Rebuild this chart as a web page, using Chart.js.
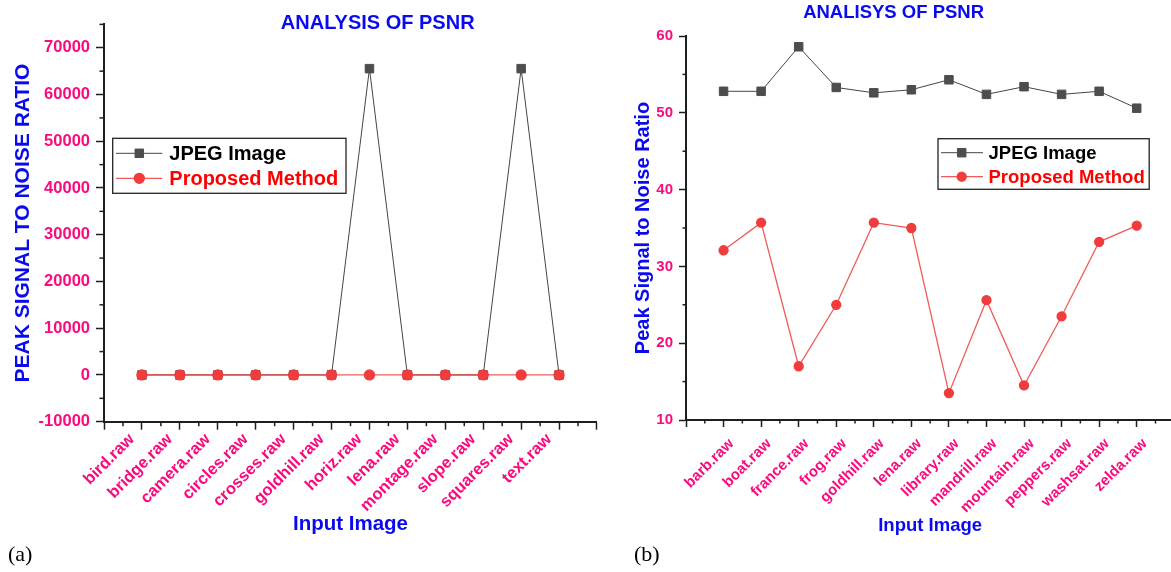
<!DOCTYPE html>
<html lang="en">
<head>
<meta charset="UTF-8" />
<title>Analysis of PSNR</title>
<script src="https://cdn.jsdelivr.net/npm/chart.js"></script>
<style>
  html, body {
    margin: 0;
    padding: 0;
    background: #fff;
    width: 1171px;
    height: 572px;
    overflow: hidden;
  }
  canvas { position: absolute; top: 0; }
  #chartA { left: 0; }
  #chartB { left: 610px; }
  .tag {
    position: absolute;
    top: 543px;
    font-family: "Liberation Serif", serif;
    font-size: 22px;
    line-height: 22px;
    color: #000;
  }
</style>
</head>
<body>

<canvas id="chartA" width="611" height="545"></canvas>
<canvas id="chartB" width="585" height="545"></canvas>
<div class="tag" style="left:8px">(a)</div>
<div class="tag" style="left:634px">(b)</div>

<script>
// ---- data (a) ----
const catsA = ['bird.raw', 'bridge.raw', 'camera.raw', 'circles.raw', 'crosses.raw', 'goldhill.raw',
               'horiz.raw', 'lena.raw', 'montage.raw', 'slope.raw', 'squares.raw', 'text.raw'];
const jpegA = [0, 0, 0, 0, 0, 0, 65535, 0, 0, 0, 65535, 0];
const proposedA = [0, 0, 0, 0, 0, 0, 0, 0, 0, 0, 0, 0];
const yTicksA = [-10000, 0, 10000, 20000, 30000, 40000, 50000, 60000, 70000];

// ---- data (b) ----
const catsB = ['barb.raw', 'boat.raw', 'france.raw', 'frog.raw', 'goldhill.raw', 'lena.raw',
               'library.raw', 'mandrill.raw', 'mountain.raw', 'peppers.raw', 'washsat.raw', 'zelda.raw'];
const jpegB = [52.8, 52.8, 58.6, 53.3, 52.6, 53.0, 54.3, 52.4, 53.4, 52.4, 52.8, 50.6];
const proposedB = [32.1, 35.7, 17.0, 25.0, 35.7, 35.0, 13.5, 25.6, 14.5, 23.5, 33.2, 35.3];
const yTicksB = [10, 20, 30, 40, 50, 60];

const seriesNames = ['JPEG Image', 'Proposed Method'];
const legendTextColors = ['#000000', '#ff0000'];

const PINK = '#fa0a7d';
const BLUE = '#0a0af0';
const AXIS = '#1e1e1e';
const FONT = '"Liberation Sans", Arial, sans-serif';

// short ticks half way between the major ones
const minorTicks = {
  id: 'minorTicks',
  afterDraw(chart, args, opts) {
    const ctx = chart.ctx;
    ctx.save();
    ctx.strokeStyle = AXIS;
    ctx.lineWidth = 1.5;
    const xs = chart.scales.x, ys = chart.scales.y;
    for (let v = xs.min + 0.5; v < xs.max; v += 1) {
      const px = xs.getPixelForValue(v);
      ctx.beginPath();
      ctx.moveTo(px, xs.top);
      ctx.lineTo(px, xs.top + opts.len);
      ctx.stroke();
    }
    for (let v = ys.min + opts.yStep / 2; v <= ys.max; v += opts.yStep) {
      const py = ys.getPixelForValue(v);
      ctx.beginPath();
      ctx.moveTo(ys.right, py);
      ctx.lineTo(ys.right - opts.len, py);
      ctx.stroke();
    }
    ctx.restore();
  }
};

// boxed legend inside the plot
const boxLegend = {
  id: 'boxLegend',
  afterDraw(chart, args, o) {
    const ctx = chart.ctx;
    ctx.save();
    ctx.strokeStyle = '#222';
    ctx.lineWidth = 1.3;
    ctx.strokeRect(o.x, o.y, o.w, o.h);
    ctx.font = 'bold ' + o.size + 'px ' + FONT;
    ctx.textBaseline = 'middle';
    chart.data.datasets.forEach((ds, i) => {
      const y = o.rows[i];
      ctx.strokeStyle = ds.borderColor;
      ctx.lineWidth = ds.borderWidth;
      ctx.beginPath();
      ctx.moveTo(o.lineFrom, y);
      ctx.lineTo(o.lineTo, y);
      ctx.stroke();
      ctx.fillStyle = ds.pointBackgroundColor;
      ctx.strokeStyle = ds.pointBorderColor;
      Chart.helpers.drawPoint(ctx, {
        pointStyle: ds.pointStyle, radius: ds.pointRadius, borderWidth: 1, rotation: 0
      }, o.marker, y);
      ctx.fillStyle = legendTextColors[i];
      ctx.fillText(ds.label, o.textX, y + 1);
    });
    ctx.restore();
  }
};

const topTitle = {
  id: 'topTitle',
  afterDraw(chart, args, o) {
    const ctx = chart.ctx;
    ctx.save();
    ctx.font = 'bold ' + o.size + 'px ' + FONT;
    ctx.fillStyle = BLUE;
    ctx.textAlign = 'center';
    ctx.textBaseline = 'middle';
    ctx.fillText(o.text, o.x, o.y);
    ctx.restore();
  }
};

function buildChart(id, o) {
  const xTicks = [-1, ...o.cats.map((c, i) => i), o.cats.length];
  const ctx = document.getElementById(id).getContext('2d');
  return new Chart(ctx, {
    type: 'line',
    data: {
      datasets: [{
        label: seriesNames[0],
        data: o.jpeg.map((v, i) => ({ x: i, y: v })),
        borderColor: '#454545',
        borderWidth: 1,
        pointStyle: 'rect',
        pointRadius: 6,
        pointBackgroundColor: '#4d4d4d',
        pointBorderColor: '#4d4d4d',
        order: 1
      }, {
        label: seriesNames[1],
        data: o.proposed.map((v, i) => ({ x: i, y: v })),
        borderColor: 'rgba(240, 60, 60, 0.85)',
        borderWidth: 1.3,
        pointStyle: 'circle',
        pointRadius: o.dotR,
        pointBackgroundColor: '#f03c3c',
        pointBorderColor: '#f03c3c',
        order: 0
      }]
    },
    options: {
      responsive: false,
      animation: false,
      layout: { padding: { left: o.padLeft, right: o.padRight, top: o.padTop, bottom: 8 } },
      plugins: {
        legend: { display: false },
        tooltip: { enabled: false },
        minorTicks: { yStep: o.yTicks[1] - o.yTicks[0], len: o.minorLen },
        boxLegend: o.legend,
        topTitle: o.title
      },
      scales: {
        x: {
          type: 'linear',
          min: -1,
          max: o.cats.length,
          border: { color: AXIS, width: 2 },
          grid: { drawOnChartArea: false, tickLength: o.tickLen, tickColor: AXIS, tickWidth: 1.5 },
          ticks: {
            autoSkip: false,
            minRotation: 45,
            maxRotation: 45,
            padding: o.xLabelPad,
            labelOffset: o.xLabelShift,
            color: PINK,
            font: { family: FONT, weight: 'bold', size: o.xTickSize },
            callback: v => o.cats[v] || ''
          },
          afterBuildTicks: s => { s.ticks = xTicks.map(v => ({ value: v })); },
          title: {
            display: true,
            text: 'Input Image',
            color: BLUE,
            padding: 0,
            font: { family: FONT, weight: 'bold', size: o.xTitleSize, lineHeight: 1.2 }
          },
          afterFit: s => { s.height = o.xAxisH; }
        },
        y: {
          min: o.yMin,
          max: o.yMax,
          border: { color: AXIS, width: 2 },
          grid: { drawOnChartArea: false, tickLength: o.tickLen, tickWidth: 1.5, tickColor: AXIS },
          ticks: {
            autoSkip: false,
            padding: 6,
            color: PINK,
            font: { family: FONT, weight: 'bold', size: o.yTickSize },
            callback: v => String(v)
          },
          afterBuildTicks: s => { s.ticks = o.yTicks.map(v => ({ value: v })); },
          title: {
            display: true,
            text: o.yTitle,
            color: BLUE,
            padding: 0,
            font: { family: FONT, weight: 'bold', size: o.yTitleSize, lineHeight: 1.2 }
          },
          afterFit: s => { s.width = o.yAxisW; }
        }
      }
    },
    plugins: [minorTicks, boxLegend, topTitle]
  });
}

buildChart('chartA', {
  cats: catsA, jpeg: jpegA, proposed: proposedA, yTicks: yTicksA,
  yMin: -10000, yMax: 75000,
  padLeft: 10.4, padRight: 2, padTop: 24.4,
  yAxisW: 93.6, xAxisH: 115.3,
  tickLen: 8, minorLen: 4.5, dotR: 5,
  xTickSize: 16.5, yTickSize: 16.5, xTitleSize: 20.5, yTitleSize: 21,
  xLabelPad: 0, xLabelShift: -10,
  yTitle: 'PEAK SIGNAL TO NOISE RATIO',
  title: { text: 'ANALYSIS OF PSNR', x: 377.7, y: 23, size: 20 },
  legend: { x: 112.7, y: 138.3, w: 233.3, h: 55, rows: [153.3, 178.3],
            lineFrom: 116, lineTo: 162.3, marker: 139.3, textX: 169.3, size: 20 }
});

buildChart('chartB', {
  cats: catsB, jpeg: jpegB, proposed: proposedB, yTicks: yTicksB,
  yMin: 10, yMax: 60,
  padLeft: 21, padRight: 6.5, padTop: 36,
  yAxisW: 55, xAxisH: 117,
  tickLen: 7, minorLen: 3.5, dotR: 4.5,
  xTickSize: 15, yTickSize: 15, xTitleSize: 18.5, yTitleSize: 20,
  xLabelPad: 8, xLabelShift: 8,
  yTitle: 'Peak Signal to Noise Ratio',
  title: { text: 'ANALISYS OF PSNR', x: 283.6, y: 12.7, size: 18.5 },
  legend: { x: 328, y: 138.7, w: 211.2, h: 50.6, rows: [152.7, 176.7],
            lineFrom: 331, lineTo: 373, marker: 351.7, textX: 378.5, size: 18.5 }
});
</script>

</body>
</html>
